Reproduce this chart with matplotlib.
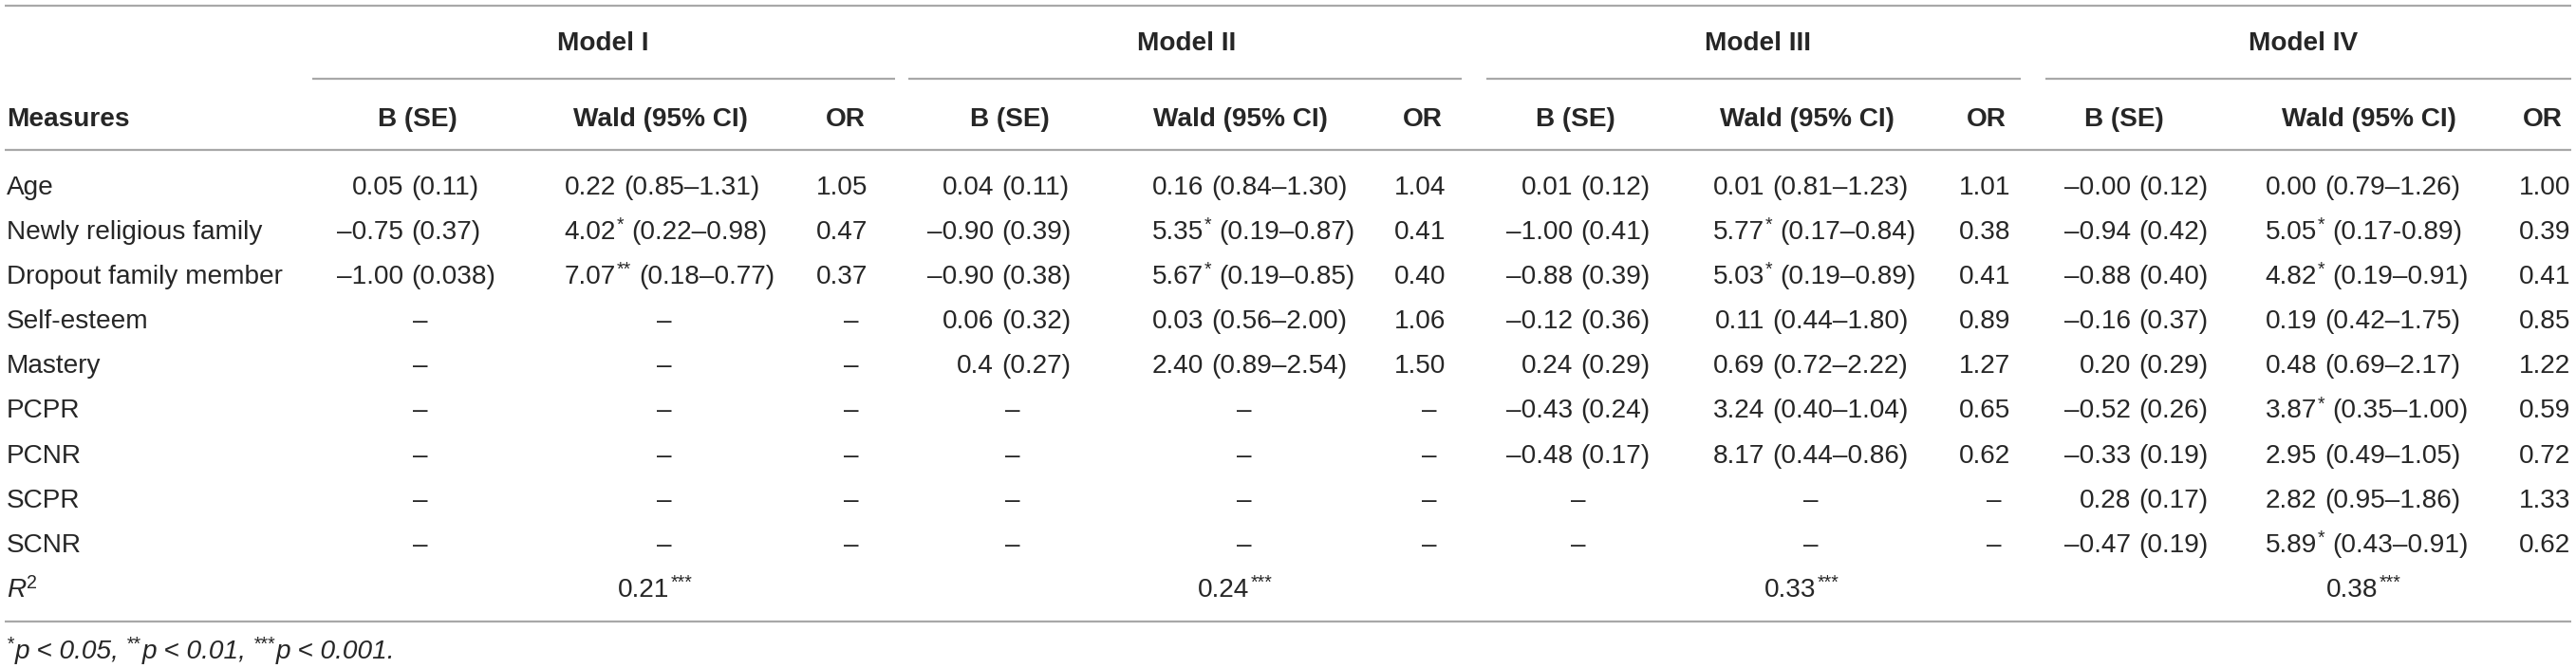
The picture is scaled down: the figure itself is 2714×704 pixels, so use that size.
import re
import matplotlib
matplotlib.use("Agg")
import matplotlib.pyplot as plt

# ---- table content -------------------------------------------------------
measures = ["Age", "Newly religious family", "Dropout family member",
            "Self-esteem", "Mastery", "PCPR", "PCNR", "SCPR", "SCNR"]
models = ["Model I", "Model II", "Model III", "Model IV"]
sub_headers = ["B (SE)", "Wald (95% CI)", "OR"]

D = "–"  # empty cell
b_m1 = ["0.05 (0.11)", "–0.75 (0.37)", "–1.00 (0.038)", D, D, D, D, D, D]
wald_m1 = ["0.22 (0.85–1.31)", "4.02* (0.22–0.98)", "7.07** (0.18–0.77)", D, D, D, D, D, D]
or_m1 = ["1.05", "0.47", "0.37", D, D, D, D, D, D]

b_m2 = ["0.04 (0.11)", "–0.90 (0.39)", "–0.90 (0.38)", "0.06 (0.32)", "0.4 (0.27)", D, D, D, D]
wald_m2 = ["0.16 (0.84–1.30)", "5.35* (0.19–0.87)", "5.67* (0.19–0.85)", "0.03 (0.56–2.00)",
           "2.40 (0.89–2.54)", D, D, D, D]
or_m2 = ["1.04", "0.41", "0.40", "1.06", "1.50", D, D, D, D]

b_m3 = ["0.01 (0.12)", "–1.00 (0.41)", "–0.88 (0.39)", "–0.12 (0.36)", "0.24 (0.29)",
        "–0.43 (0.24)", "–0.48 (0.17)", D, D]
wald_m3 = ["0.01 (0.81–1.23)", "5.77* (0.17–0.84)", "5.03* (0.19–0.89)", "0.11 (0.44–1.80)",
           "0.69 (0.72–2.22)", "3.24 (0.40–1.04)", "8.17 (0.44–0.86)", D, D]
or_m3 = ["1.01", "0.38", "0.41", "0.89", "1.27", "0.65", "0.62", D, D]

b_m4 = ["–0.00 (0.12)", "–0.94 (0.42)", "–0.88 (0.40)", "–0.16 (0.37)", "0.20 (0.29)",
        "–0.52 (0.26)", "–0.33 (0.19)", "0.28 (0.17)", "–0.47 (0.19)"]
wald_m4 = ["0.00 (0.79–1.26)", "5.05* (0.17-0.89)", "4.82* (0.19–0.91)", "0.19 (0.42–1.75)",
           "0.48 (0.69–2.17)", "3.87* (0.35–1.00)", "2.95 (0.49–1.05)", "2.82 (0.95–1.86)",
           "5.89* (0.43–0.91)"]
or_m4 = ["1.00", "0.39", "0.41", "0.85", "1.22", "0.59", "0.72", "1.33", "0.62"]

r2 = ["0.21***", "0.24***", "0.33***", "0.38***"]
footnote = [("*", "p < 0.05,"), ("**", "p < 0.01,"), ("***", "p < 0.001.")]

b_cols = [b_m1, b_m2, b_m3, b_m4]
wald_cols = [wald_m1, wald_m2, wald_m3, wald_m4]
or_cols = [or_m1, or_m2, or_m3, or_m4]

# ---- layout (pixels) -----------------------------------------------------
W, H, DPI = 2714, 704, 100
LEFT, RIGHT = 5, 2709
title_x = [635, 1250, 1852, 2427]
underline = [(329, 943), (957, 1540), (1566, 2129), (2155, 2709)]
b_head = [440, 1064, 1660, 2238]
b_anchor = [425, 1047, 1657, 2245]
w_head = [696, 1307, 1904, 2496]
w_anchor = [649, 1268, 1859, 2441]
or_head = [891, 1499, 2093, 2679]
or_right = [914, 1523, 2118, 2708]

y_top, y_title, y_uline, y_head, y_hline = 6, 43, 83, 123, 158
row_y = [195 + i * 47.1 for i in range(len(measures) + 1)]
y_bottom, y_foot = 655, 694

FS = 20.2          # ~28 px
SUP = FS * 0.7
RAISE = 9          # superscript lift in px
SPACE = 7.8
INK = "#262626"
RULE = "#a8a8a8"

plt.rcParams["font.family"] = ["Liberation Sans", "DejaVu Sans"]

fig = plt.figure(figsize=(W / DPI, H / DPI), dpi=DPI)
ax = fig.add_axes([0, 0, 1, 1])
ax.set_xlim(0, W)
ax.set_ylim(H, 0)
ax.axis("off")
renderer = fig.canvas.get_renderer()


def txt(x, y, s, ha="left", size=FS, **kw):
    return ax.text(x, y, s, ha=ha, va="baseline", fontsize=size, color=INK, **kw)


def width(t):
    return t.get_window_extent(renderer).width


def hline(x0, x1, y, lw=1.6):
    ax.plot([x0, x1], [y, y], color=RULE, lw=lw, solid_capstyle="butt")


pat = re.compile(r"^([^\s*]+)(\**)\s*(.*)$")


def cell(anchor, dash_x, y, s):
    if s == D:
        txt(dash_x, y, D, ha="center")
        return
    num, stars, rest = pat.match(s).groups()
    txt(anchor, y, num, ha="right")
    x = anchor
    if stars:
        t = txt(x + 1, y - RAISE, stars, size=SUP)
        x += 1 + width(t)
    if rest:
        txt(x + SPACE, y, rest)


# rules
hline(LEFT, RIGHT, y_top)
for x0, x1 in underline:
    hline(x0, x1, y_uline)
hline(LEFT, RIGHT, y_hline)
hline(LEFT, RIGHT, y_bottom)

# headers
for m, x in zip(models, title_x):
    txt(x, y_title + 10, m, ha="center", fontweight="bold")
txt(7, y_head + 10, "Measures", fontweight="bold")
for k in range(4):
    for name, x in zip(sub_headers, (b_head[k], w_head[k], or_head[k])):
        txt(x, y_head + 10, name, ha="center", fontweight="bold")

# body
for i, name in enumerate(measures):
    base = row_y[i] + 10
    txt(7, base, name)
    for k in range(4):
        cell(b_anchor[k], b_head[k] + 3, base, b_cols[k][i])
        cell(w_anchor[k], w_head[k] + 4, base, wald_cols[k][i])
        v = or_cols[k][i]
        if v == D:
            txt(or_right[k] - 17, base, D, ha="center")
        else:
            txt(or_right[k], base, v, ha="right")

# R squared row
base = row_y[-1] + 10
t = txt(7, base, "R", style="italic")
txt(7 + width(t) + 1, base - RAISE, "2", size=SUP)
for k, v in enumerate(r2):
    num, stars = v.rstrip("*"), v[len(v.rstrip("*")):]
    tn = txt(0, base, num)
    ts = txt(0, base - RAISE, stars, size=SUP)
    wn, ws = width(tn), width(ts)
    x0 = w_head[k] - 6 - (wn + ws + 1) / 2
    tn.set_x(x0)
    ts.set_x(x0 + wn + 1)

# footnote
x = 7
for stars, rest in footnote:
    ts = txt(x, y_foot - RAISE, stars, size=SUP, style="italic")
    x += width(ts) + 1
    tr = txt(x, y_foot, rest, style="italic")
    x += width(tr) + SPACE

fig.savefig("out.png", dpi=DPI)
